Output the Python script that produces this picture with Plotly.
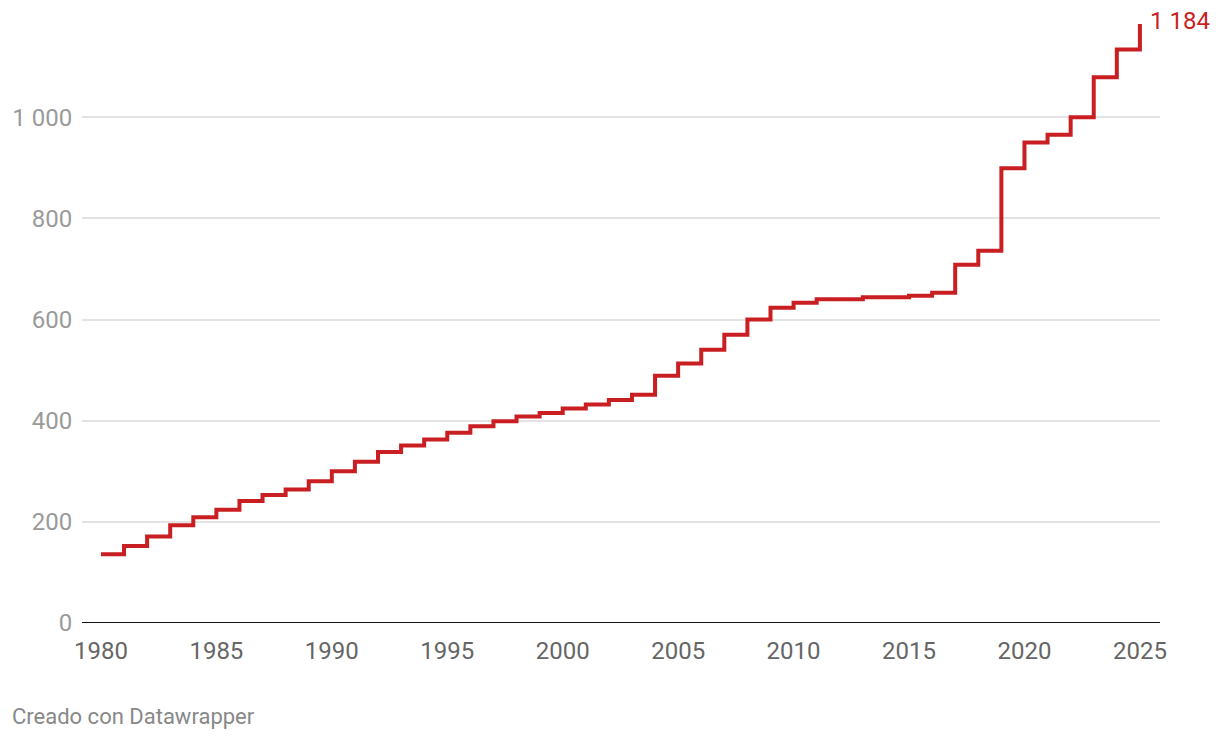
import plotly.graph_objects as go

years = list(range(1980, 2026))
values = [136, 152, 171, 193, 209, 224, 241, 253, 264, 280,
          300, 319, 338, 351, 363, 376, 389, 399, 408, 415,
          424, 432, 441, 451, 489, 513, 540, 570, 600, 623,
          633, 640, 640, 644, 644, 647, 653, 708, 736, 899,
          950, 965, 1000, 1079, 1134, 1184]
y_ticks = [0, 200, 400, 600, 800, 1000]
y_tick_labels = ["0", "200", "400", "600", "800", "1 000"]
x_ticks = [1980, 1985, 1990, 1995, 2000, 2005, 2010, 2015, 2020, 2025]
last_label = "1 184"

RED = "#c91f23"

# page offset (body margin) of 8px in the rendered page
L, R, T, B = 74, 68, 8, 125
PW = 1220 - L - R
PH = 740 - T - B

fig = go.Figure()
fig.add_trace(go.Scatter(
    x=years, y=values, mode="lines",
    line=dict(color=RED, width=4, shape="hv"),
    hoverinfo="skip", showlegend=False,
))

fig.add_annotation(
    x=years[-1], y=values[-1], text=last_label, showarrow=False,
    xanchor="left", yanchor="middle", xshift=8, yshift=3,
    font=dict(family="Roboto", size=24, color=RED),
)
fig.add_annotation(
    x=-(L - 2) / PW, y=-(716 - 623) / PH, xref="paper", yref="paper",
    text="Creado con Datawrapper",
    showarrow=False, xanchor="left", yanchor="middle",
    font=dict(family="Roboto", size=22, color="#888888"),
)

fig.update_layout(
    width=1220, height=740,
    margin=dict(l=L, r=R, t=T, b=B, autoexpand=False),
    paper_bgcolor="white", plot_bgcolor="white",
    font=dict(family="Roboto", size=24),
    xaxis=dict(
        range=[1979.18, 2025.87], tickvals=x_ticks,
        showgrid=False, zeroline=False, showline=False,
        ticks="outside", ticklen=6, tickcolor="rgba(0,0,0,0)",
        tickfont=dict(family="Roboto", size=24, color="#666666"),
        fixedrange=True, automargin=False,
    ),
    yaxis=dict(
        range=[0, 1200], tickvals=y_ticks, ticktext=y_tick_labels,
        showgrid=True, gridcolor="#e3e3e3", gridwidth=1.5,
        zeroline=False, showline=False,
        ticks="outside", ticklen=4, tickcolor="rgba(0,0,0,0)",
        tickfont=dict(family="Roboto", size=24, color="#9a9a9a"),
        fixedrange=True, automargin=False,
    ),
)
fig.add_shape(type="line", xref="paper", yref="y", x0=0, x1=1, y0=0, y1=0,
              line=dict(color="#111111", width=2), layer="above")

fig.write_html("out.html")
